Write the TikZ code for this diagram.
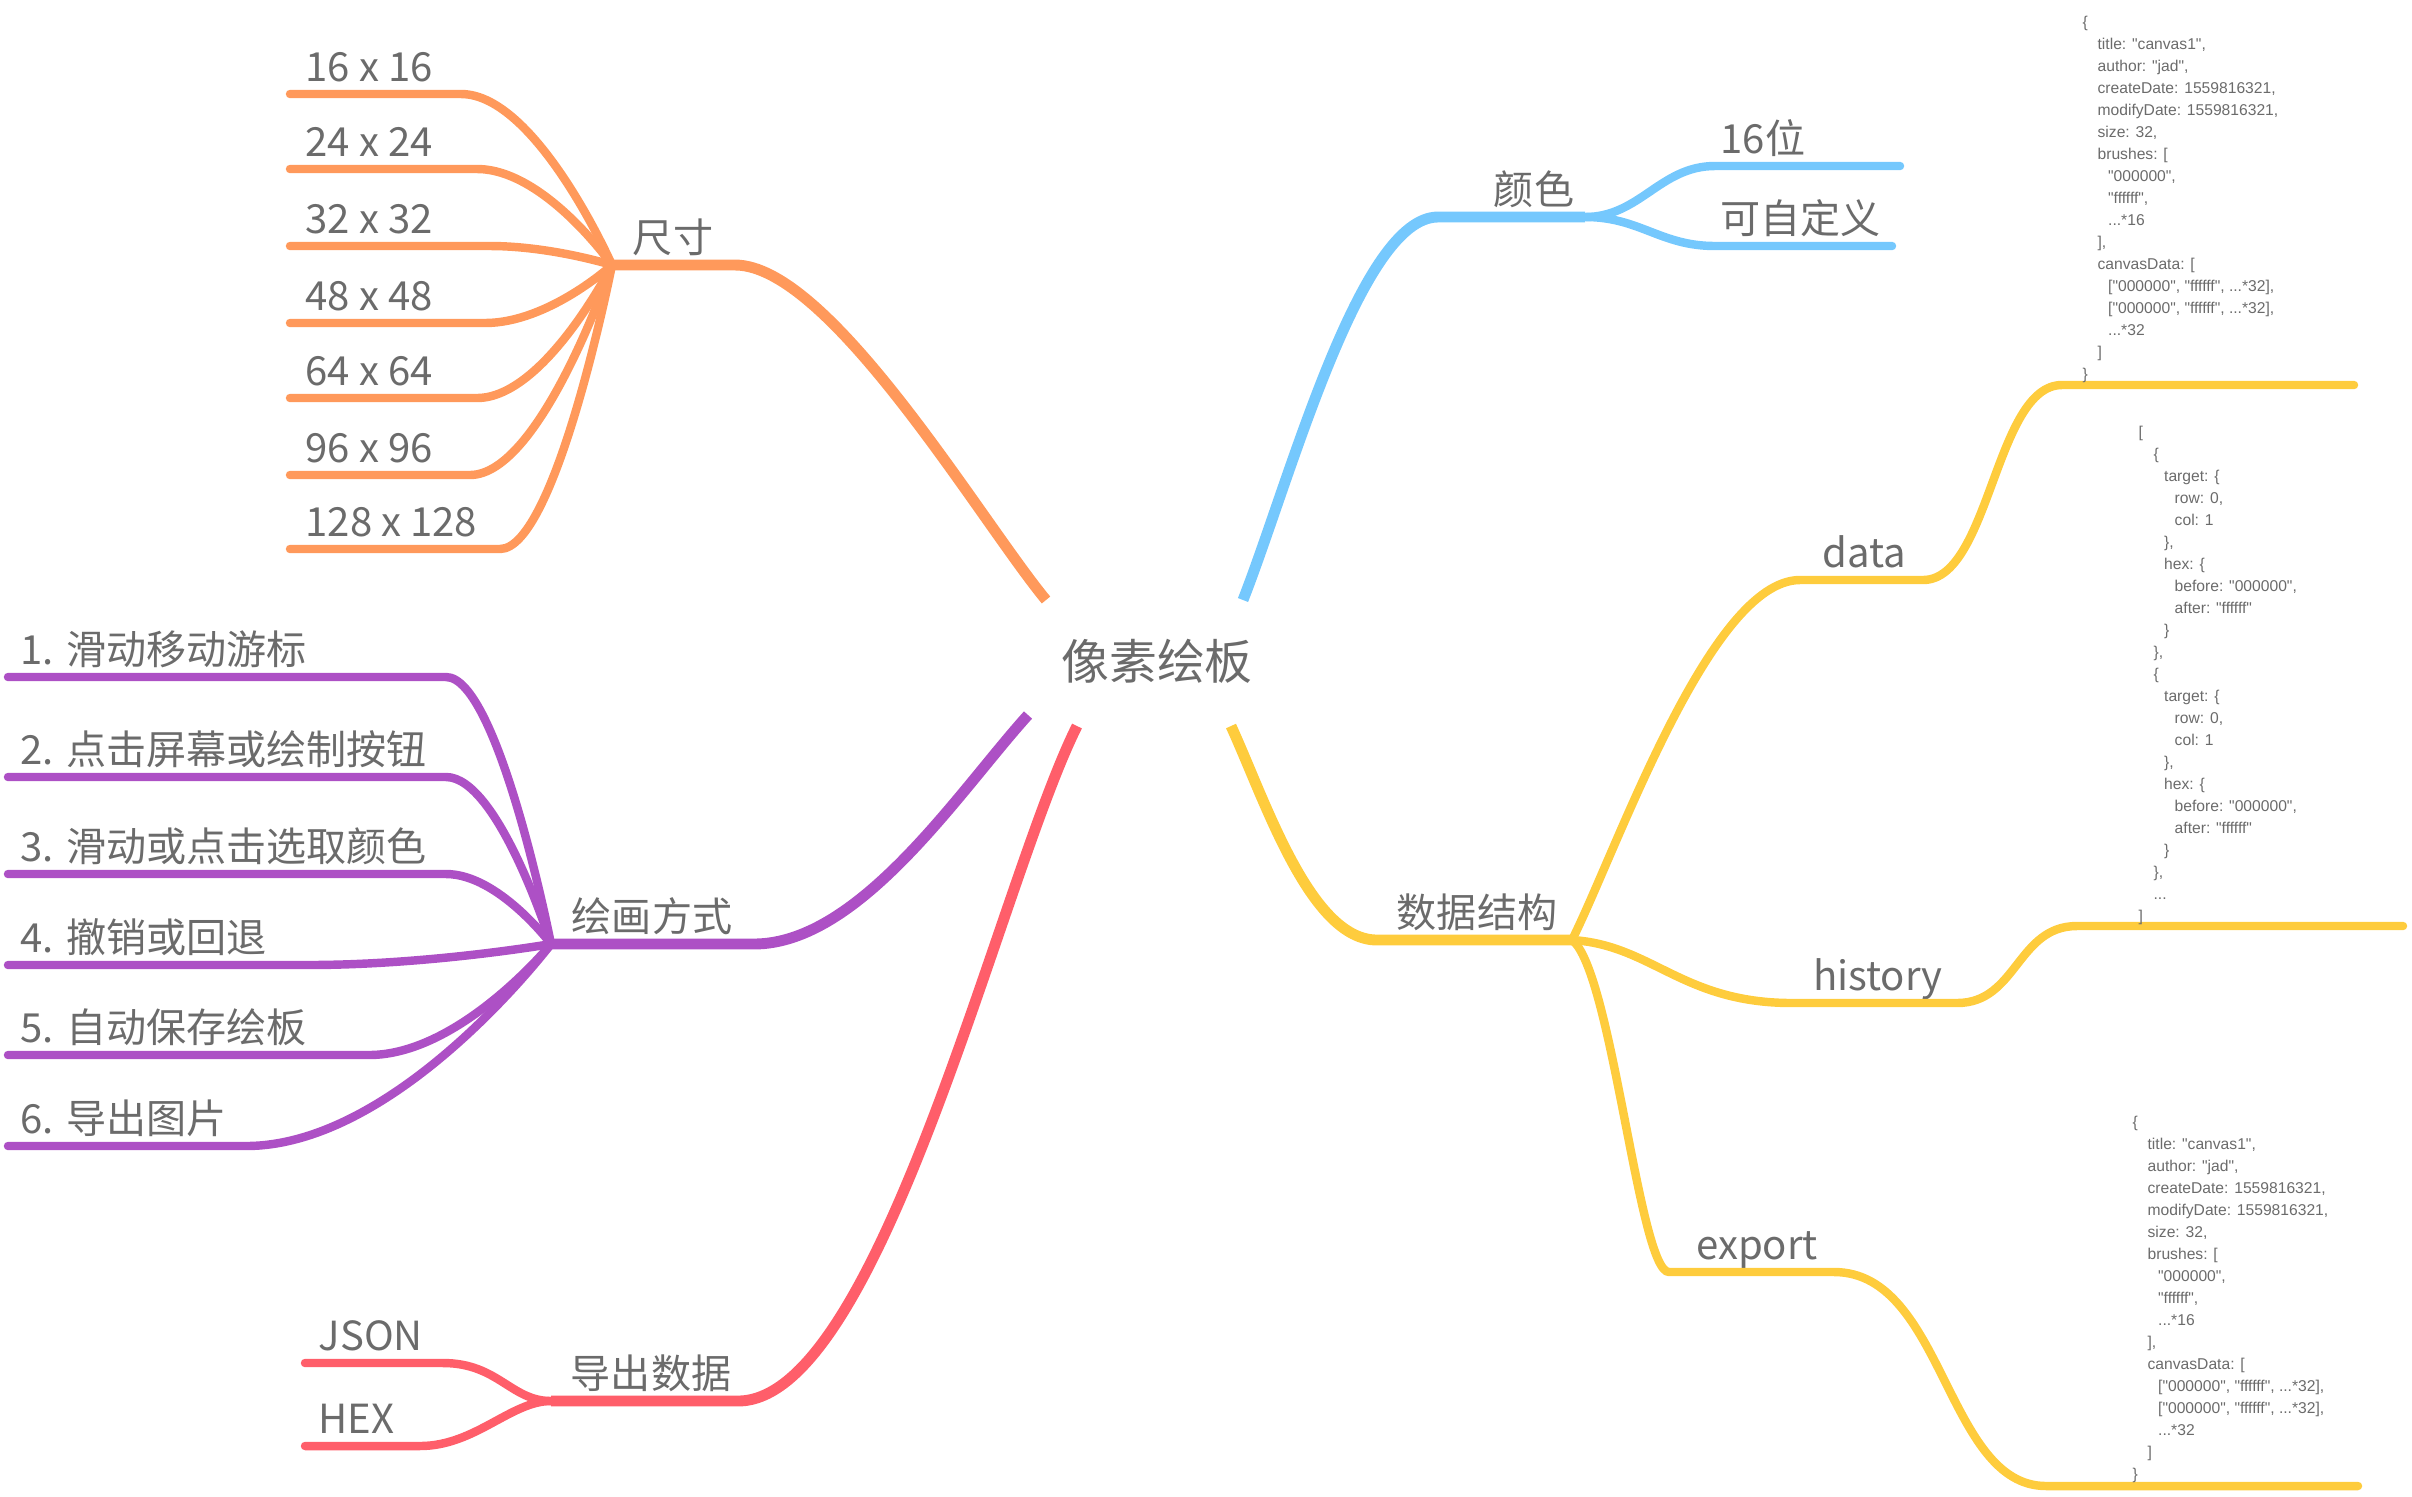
\documentclass[tikz,border=0pt]{standalone}
\usepackage{fontspec}
\setmainfont{Noto Sans CJK SC}
\newfontfamily\codefont{Liberation Sans}
\usetikzlibrary{calc,positioning}
\definecolor{orangeb}{HTML}{FF995B}
\definecolor{blueb}{HTML}{75C8FD}
\definecolor{yellowb}{HTML}{FECC3D}
\definecolor{purpleb}{HTML}{AD50C5}
\definecolor{redb}{HTML}{FF5E6A}
\definecolor{txt}{HTML}{6B6B6B}
\newcommand\ind[1]{\hspace*{#1\dimexpr 3pt\relax}}

\begin{document}
\begin{tikzpicture}[x=0.01cm, y=-0.01cm,
  topic/.style = {font=\fontsize{11.4}{13}\selectfont, text=txt, inner sep=0pt, anchor=base},
  leaf/.style = {font=\fontsize{11.4}{13}\selectfont, text=txt, inner sep=0pt, anchor=base west},
  code/.style = {font=\codefont\fontsize{4.45}{6.26}\selectfont, text=txt, inner sep=0pt, anchor=north west, align=left},
  trunk/.style = {line width=3.1pt},
  twig/.style = {line width=2.4pt, line cap=round}]
\useasboundingbox (0,0) rectangle (2412,1496);

\node[font=\fontsize{13.6}{16}\selectfont, text=txt, inner sep=0pt, anchor=base] (root) at (1157,679) {像素绘板};

% 尺寸
\coordinate (sz-in) at (1046,600);
\coordinate (sz-r) at (735,265);
\coordinate (sz) at (612,265);
\node[topic] (szl) at (673,252) {尺寸};
\draw[trunk, orangeb] (sz-in) .. controls +(-66,-80) and +(95,0) .. (sz-r) -- (sz);
\foreach \lbl/\y/\e [count=\i] in {16 x 16/94/461, 24 x 24/169/477, 32 x 32/246/490, 48 x 48/323/485, 64 x 64/398/477, 96 x 96/475/470, 128 x 128/549/500} {
  \coordinate (s\i-w) at (290,\y);
  \coordinate (s\i-e) at (\e,\y);
  \node[leaf] (s\i) at (305,\y-13) {\lbl};
  \draw[twig, orangeb] (s\i-w) -- (s\i-e) .. controls ({(\e+612)/2},\y) and (sz) .. (sz);
}

% 绘画方式
\coordinate (hf-in) at (1028,715);
\coordinate (hf-r) at (754,944);
\coordinate (hf) at (551,944);
\node[topic] (hfl) at (652,931) {绘画方式};
\draw[trunk, purpleb] (hf-in) .. controls +(-68,75) and +(106,0) .. (hf-r) -- (hf);
\foreach \lbl/\y/\e [count=\i] in {1. 滑动移动游标/677/446, 2. 点击屏幕或绘制按钮/777/446, 3. 滑动或点击选取颜色/874/446, 4. 撤销或回退/965/308, 5. 自动保存绘板/1055/369, 6. 导出图片/1146/246} {
  \coordinate (h\i-w) at (8,\y);
  \coordinate (h\i-e) at (\e,\y);
  \node[leaf] (h\i) at (20,\y-13) {\lbl};
  \draw[twig, purpleb] (h\i-w) -- (h\i-e) .. controls ({(\e+551)/2},\y) and (hf) .. (hf);
}

% 导出数据
\coordinate (ex-in) at (1077,726);
\coordinate (ex-r) at (738,1401);
\coordinate (ex) at (551,1401);
\node[topic] (exl) at (651,1388) {导出数据};
\draw[trunk, redb] (ex-in) .. controls +(-77,154) and +(142,0) .. (ex-r) -- (ex);
\foreach \lbl/\y/\e [count=\i] in {JSON/1363/443, HEX/1446/420} {
  \coordinate (x\i-w) at (305,\y);
  \coordinate (x\i-e) at (\e,\y);
  \node[leaf] (x\i) at (318,\y-13) {\lbl};
  \draw[twig, redb] (x\i-w) -- (x\i-e) .. controls +(55,0) and +(-40,0) .. (ex);
}

% 颜色
\coordinate (cl-in) at (1243,600);
\coordinate (cl-l) at (1438,217);
\coordinate (cl) at (1585,217);
\node[topic] (cll) at (1534,204) {颜色};
\draw[trunk, blueb] (cl-in) .. controls +(47,-120) and +(-78,0) .. (cl-l) -- (cl);
\foreach \lbl/\y/\e [count=\i] in {16位/166/1900, 可自定义/246/1892} {
  \coordinate (c\i-w) at (1715,\y);
  \coordinate (c\i-e) at (\e,\y);
  \node[leaf] (c\i) at (1720,\y-13) {\lbl};
  \draw[twig, blueb] (cl) .. controls +(55,0) and +(-55,0) .. (c\i-w) -- (c\i-e);
}

% 数据结构
\coordinate (ds-in) at (1231,726);
\coordinate (ds-l) at (1377,940);
\coordinate (ds) at (1572,940);
\node[topic] (dsl) at (1477,927) {数据结构};
\draw[trunk, yellowb] (ds-in) .. controls +(34,74) and +(-67,0) .. (ds-l) -- (ds);

\coordinate (da-l) at (1800,580);
\coordinate (da-r) at (1923,580);
\coordinate (dc-l) at (2062,385);
\coordinate (dc-r) at (2354,385);
\node[topic] (da) at (1864,567) {data};
\draw[twig, yellowb] (ds) .. controls +(45,-90) and +(-90,0) .. (da-l) -- (da-r)
  .. controls +(67,0) and +(-67,0) .. (dc-l) -- (dc-r);

\coordinate (hi-l) at (1792,1003);
\coordinate (hi-r) at (1957,1003);
\coordinate (hc-l) at (2077,926);
\coordinate (hc-r) at (2403,926);
\node[topic] (hi) at (1878,990) {history};
\draw[twig, yellowb] (ds) .. controls +(80,5) and +(-110,0) .. (hi-l) -- (hi-r)
  .. controls +(60,0) and +(-60,0) .. (hc-l) -- (hc-r);

\coordinate (ep-l) at (1669,1272);
\coordinate (ep-r) at (1834,1272);
\coordinate (ec-l) at (2046,1486);
\coordinate (ec-r) at (2358,1486);
\node[topic] (ep) at (1757,1259) {export};
\draw[twig, yellowb] (ds) .. controls +(40,30) and +(-30,0) .. (ep-l) -- (ep-r)
  .. controls +(110,0) and +(-100,0) .. (ec-l) -- (ec-r);

% code
\node[code] (dcode) at (2082,15) {\{\\
\ind1 title: "canvas1",\\
\ind1 author: "jad",\\
\ind1 createDate: 1559816321,\\
\ind1 modifyDate: 1559816321,\\
\ind1 size: 32,\\
\ind1 brushes: [\\
\ind2 "000000",\\
\ind2 "ffffff",\\
\ind2 ...*16\\
\ind1 ],\\
\ind1 canvasData: [\\
\ind2 ["000000", "ffffff", ...*32],\\
\ind2 ["000000", "ffffff", ...*32],\\
\ind2 ...*32\\
\ind1 ]\\
\}};

\node[code] (hcode) at (2138,425) {[\\
\ind1 \{\\
\ind2 target: \{\\
\ind3 row: 0,\\
\ind3 col: 1\\
\ind2 \},\\
\ind2 hex: \{\\
\ind3 before: "000000",\\
\ind3 after: "ffffff"\\
\ind2 \}\\
\ind1 \},\\
\ind1 \{\\
\ind2 target: \{\\
\ind3 row: 0,\\
\ind3 col: 1\\
\ind2 \},\\
\ind2 hex: \{\\
\ind3 before: "000000",\\
\ind3 after: "ffffff"\\
\ind2 \}\\
\ind1 \},\\
\ind1 ...\\
]};

\node[code] (ecode) at (2132,1115) {\{\\
\ind1 title: "canvas1",\\
\ind1 author: "jad",\\
\ind1 createDate: 1559816321,\\
\ind1 modifyDate: 1559816321,\\
\ind1 size: 32,\\
\ind1 brushes: [\\
\ind2 "000000",\\
\ind2 "ffffff",\\
\ind2 ...*16\\
\ind1 ],\\
\ind1 canvasData: [\\
\ind2 ["000000", "ffffff", ...*32],\\
\ind2 ["000000", "ffffff", ...*32],\\
\ind2 ...*32\\
\ind1 ]\\
\}};
\end{tikzpicture}
\end{document}
